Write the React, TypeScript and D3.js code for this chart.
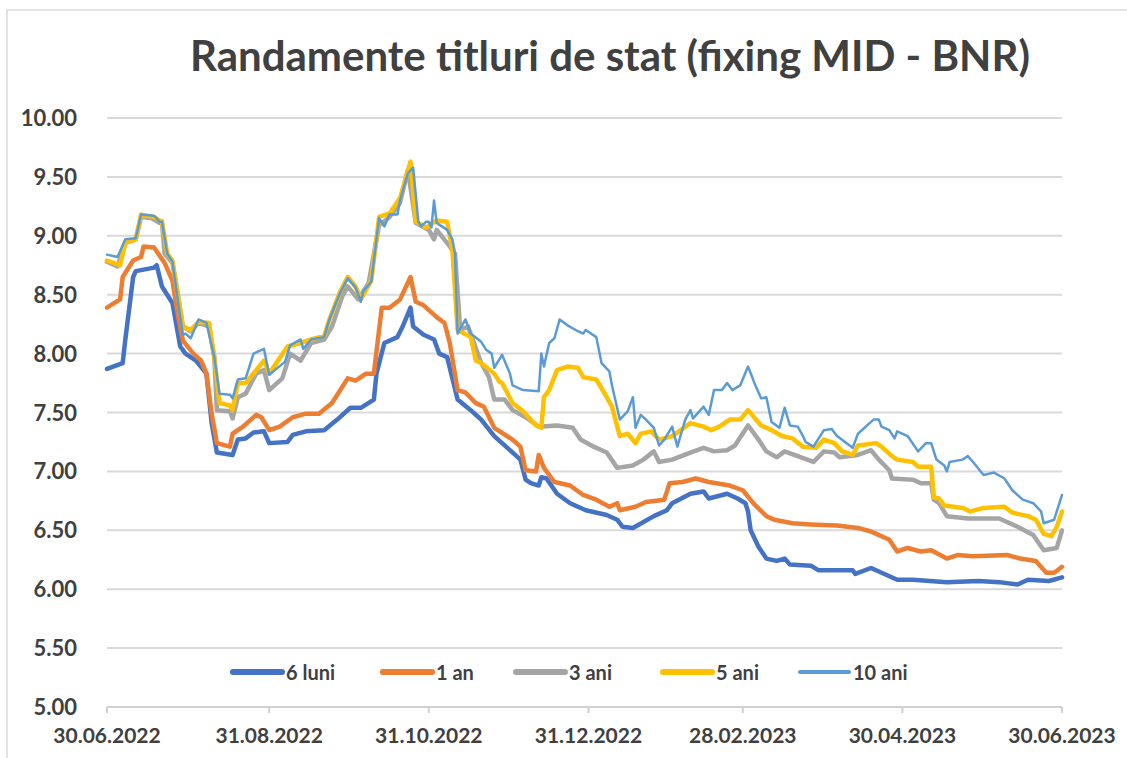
import React from "react";
import * as d3 from "d3";

const TITLE = "Randamente titluri de stat (fixing MID - BNR)";

const xTickDates = ["2022-06-30", "2022-08-31", "2022-10-31", "2022-12-31", "2023-02-28", "2023-04-30", "2023-06-30"];
const yTicks = [5, 5.5, 6, 6.5, 7, 7.5, 8, 8.5, 9, 9.5, 10];

// randament 6 luni
const luni6: [string, number][] = [
  ["2022-06-30", 7.87], ["2022-07-06", 7.92], ["2022-07-07", 8.12], ["2022-07-10", 8.65], ["2022-07-11", 8.7],
  ["2022-07-18", 8.73], ["2022-07-19", 8.75], ["2022-07-21", 8.57], ["2022-07-25", 8.43], ["2022-07-28", 8.06],
  ["2022-07-30", 8.0], ["2022-08-03", 7.94], ["2022-08-07", 7.83], ["2022-08-09", 7.41], ["2022-08-11", 7.16],
  ["2022-08-17", 7.14], ["2022-08-19", 7.27], ["2022-08-22", 7.28], ["2022-08-25", 7.33], ["2022-08-29", 7.34],
  ["2022-08-31", 7.24], ["2022-09-07", 7.25], ["2022-09-09", 7.31], ["2022-09-14", 7.34], ["2022-09-21", 7.35],
  ["2022-09-26", 7.44], ["2022-10-01", 7.54], ["2022-10-05", 7.54], ["2022-10-10", 7.61], ["2022-10-11", 7.83],
  ["2022-10-14", 8.09], ["2022-10-19", 8.14], ["2022-10-21", 8.23], ["2022-10-24", 8.39], ["2022-10-25", 8.23],
  ["2022-10-29", 8.16], ["2022-11-02", 8.12], ["2022-11-04", 8.0], ["2022-11-07", 7.97], ["2022-11-11", 7.61],
  ["2022-11-16", 7.52], ["2022-11-20", 7.44], ["2022-11-25", 7.3], ["2022-12-01", 7.18], ["2022-12-05", 7.1],
  ["2022-12-07", 6.93], ["2022-12-09", 6.9], ["2022-12-12", 6.88], ["2022-12-13", 6.95], ["2022-12-15", 6.94],
  ["2022-12-19", 6.81], ["2022-12-24", 6.73], ["2022-12-30", 6.67], ["2023-01-07", 6.63], ["2023-01-11", 6.59],
  ["2023-01-13", 6.53], ["2023-01-17", 6.52], ["2023-01-25", 6.62], ["2023-01-30", 6.67], ["2023-02-01", 6.73],
  ["2023-02-08", 6.81], ["2023-02-13", 6.83], ["2023-02-15", 6.77], ["2023-02-22", 6.81], ["2023-02-26", 6.77],
  ["2023-03-01", 6.73], ["2023-03-02", 6.66], ["2023-03-03", 6.5], ["2023-03-06", 6.36], ["2023-03-09", 6.26],
  ["2023-03-13", 6.24], ["2023-03-16", 6.26], ["2023-03-18", 6.21], ["2023-03-26", 6.2], ["2023-03-29", 6.16],
  ["2023-04-11", 6.16], ["2023-04-12", 6.13], ["2023-04-18", 6.18], ["2023-04-24", 6.12], ["2023-04-28", 6.08],
  ["2023-05-04", 6.08], ["2023-05-17", 6.06], ["2023-05-29", 6.07], ["2023-06-06", 6.06], ["2023-06-13", 6.04],
  ["2023-06-17", 6.08], ["2023-06-25", 6.07], ["2023-06-30", 6.1],
];

// randament 1 an
const an1: [string, number][] = [
  ["2022-06-30", 8.39], ["2022-07-05", 8.46], ["2022-07-06", 8.65], ["2022-07-10", 8.79], ["2022-07-13", 8.82],
  ["2022-07-14", 8.91], ["2022-07-18", 8.9], ["2022-07-22", 8.77], ["2022-07-25", 8.62], ["2022-07-27", 8.34],
  ["2022-07-29", 8.11], ["2022-08-02", 8.0], ["2022-08-05", 7.94], ["2022-08-07", 7.83], ["2022-08-09", 7.49],
  ["2022-08-11", 7.24], ["2022-08-16", 7.21], ["2022-08-17", 7.32], ["2022-08-21", 7.38], ["2022-08-26", 7.48],
  ["2022-08-28", 7.46], ["2022-08-31", 7.35], ["2022-09-04", 7.38], ["2022-09-09", 7.46], ["2022-09-14", 7.49],
  ["2022-09-19", 7.49], ["2022-09-24", 7.58], ["2022-09-30", 7.79], ["2022-10-03", 7.77], ["2022-10-07", 7.83],
  ["2022-10-10", 7.83], ["2022-10-13", 8.39], ["2022-10-16", 8.39], ["2022-10-20", 8.46], ["2022-10-24", 8.65],
  ["2022-10-26", 8.44], ["2022-10-29", 8.41], ["2022-11-03", 8.31], ["2022-11-06", 8.26], ["2022-11-08", 8.09],
  ["2022-11-11", 7.69], ["2022-11-14", 7.67], ["2022-11-18", 7.58], ["2022-11-21", 7.55], ["2022-11-25", 7.37],
  ["2022-12-02", 7.27], ["2022-12-05", 7.21], ["2022-12-07", 7.01], ["2022-12-11", 7.0], ["2022-12-12", 7.14],
  ["2022-12-14", 7.03], ["2022-12-18", 6.91], ["2022-12-24", 6.88], ["2022-12-29", 6.8], ["2023-01-03", 6.76],
  ["2023-01-08", 6.7], ["2023-01-11", 6.73], ["2023-01-12", 6.67], ["2023-01-18", 6.7], ["2023-01-22", 6.74],
  ["2023-01-29", 6.76], ["2023-01-31", 6.9], ["2023-02-05", 6.91], ["2023-02-10", 6.94], ["2023-02-15", 6.91],
  ["2023-02-23", 6.88], ["2023-02-28", 6.84], ["2023-03-04", 6.73], ["2023-03-09", 6.62], ["2023-03-12", 6.59],
  ["2023-03-19", 6.56], ["2023-03-26", 6.55], ["2023-04-05", 6.54], ["2023-04-13", 6.52], ["2023-04-18", 6.49],
  ["2023-04-20", 6.47], ["2023-04-25", 6.42], ["2023-04-28", 6.32], ["2023-05-02", 6.35], ["2023-05-07", 6.32],
  ["2023-05-11", 6.33], ["2023-05-17", 6.26], ["2023-05-21", 6.29], ["2023-05-27", 6.28], ["2023-06-09", 6.29],
  ["2023-06-14", 6.26], ["2023-06-20", 6.24], ["2023-06-24", 6.14], ["2023-06-27", 6.14], ["2023-06-30", 6.19],
];

// randament 3 ani
const ani3: [string, number][] = [
  ["2022-06-30", 8.78], ["2022-07-04", 8.74], ["2022-07-07", 8.94], ["2022-07-11", 8.97], ["2022-07-13", 9.16],
  ["2022-07-17", 9.15], ["2022-07-20", 9.11], ["2022-07-21", 9.12], ["2022-07-22", 8.85], ["2022-07-25", 8.77],
  ["2022-07-27", 8.51], ["2022-07-29", 8.23], ["2022-08-01", 8.19], ["2022-08-04", 8.26], ["2022-08-08", 8.23],
  ["2022-08-10", 7.97], ["2022-08-11", 7.52], ["2022-08-16", 7.51], ["2022-08-17", 7.45], ["2022-08-19", 7.63],
  ["2022-08-22", 7.66], ["2022-08-26", 7.83], ["2022-08-29", 7.86], ["2022-08-31", 7.69], ["2022-09-05", 7.79],
  ["2022-09-08", 8.0], ["2022-09-12", 7.94], ["2022-09-16", 8.09], ["2022-09-21", 8.12], ["2022-09-24", 8.23],
  ["2022-09-28", 8.49], ["2022-09-30", 8.57], ["2022-10-04", 8.46], ["2022-10-08", 8.6], ["2022-10-12", 9.09],
  ["2022-10-16", 9.16], ["2022-10-20", 9.28], ["2022-10-23", 9.56], ["2022-10-26", 9.11], ["2022-10-31", 9.05],
  ["2022-11-02", 8.97], ["2022-11-03", 9.05], ["2022-11-08", 8.91], ["2022-11-10", 8.85], ["2022-11-12", 8.2],
  ["2022-11-15", 8.23], ["2022-11-20", 7.92], ["2022-11-23", 7.8], ["2022-11-25", 7.61], ["2022-11-29", 7.61],
  ["2022-12-02", 7.52], ["2022-12-07", 7.46], ["2022-12-12", 7.38], ["2022-12-19", 7.39], ["2022-12-25", 7.37],
  ["2022-12-28", 7.27], ["2023-01-02", 7.21], ["2023-01-07", 7.16], ["2023-01-11", 7.03], ["2023-01-17", 7.05],
  ["2023-01-21", 7.1], ["2023-01-25", 7.17], ["2023-01-27", 7.08], ["2023-02-01", 7.1], ["2023-02-08", 7.16],
  ["2023-02-13", 7.2], ["2023-02-17", 7.17], ["2023-02-22", 7.18], ["2023-02-25", 7.22], ["2023-03-02", 7.39],
  ["2023-03-06", 7.27], ["2023-03-09", 7.17], ["2023-03-13", 7.12], ["2023-03-16", 7.17], ["2023-03-21", 7.13],
  ["2023-03-27", 7.08], ["2023-03-31", 7.17], ["2023-04-04", 7.16], ["2023-04-06", 7.12], ["2023-04-13", 7.14],
  ["2023-04-18", 7.18], ["2023-04-21", 7.1], ["2023-04-25", 7.01], ["2023-04-26", 6.94], ["2023-05-04", 6.93],
  ["2023-05-07", 6.9], ["2023-05-11", 6.9], ["2023-05-12", 6.76], ["2023-05-14", 6.73], ["2023-05-17", 6.62],
  ["2023-05-25", 6.6], ["2023-06-06", 6.6], ["2023-06-13", 6.53], ["2023-06-19", 6.46], ["2023-06-23", 6.33],
  ["2023-06-28", 6.35], ["2023-06-30", 6.5],
];

// randament 5 ani
const ani5: [string, number][] = [
  ["2022-06-30", 8.79], ["2022-07-05", 8.75], ["2022-07-07", 8.94], ["2022-07-11", 8.97], ["2022-07-13", 9.18],
  ["2022-07-18", 9.16], ["2022-07-20", 9.13], ["2022-07-21", 9.12], ["2022-07-23", 8.85], ["2022-07-25", 8.79],
  ["2022-07-27", 8.51], ["2022-07-29", 8.23], ["2022-08-01", 8.2], ["2022-08-04", 8.27], ["2022-08-08", 8.26],
  ["2022-08-10", 7.97], ["2022-08-12", 7.58], ["2022-08-16", 7.56], ["2022-08-17", 7.52], ["2022-08-19", 7.75],
  ["2022-08-22", 7.75], ["2022-08-29", 7.94], ["2022-08-31", 7.83], ["2022-09-07", 8.06], ["2022-09-12", 8.09],
  ["2022-09-16", 8.12], ["2022-09-21", 8.15], ["2022-09-23", 8.29], ["2022-09-27", 8.52], ["2022-09-30", 8.65],
  ["2022-10-03", 8.57], ["2022-10-05", 8.46], ["2022-10-09", 8.62], ["2022-10-12", 9.16], ["2022-10-16", 9.19],
  ["2022-10-20", 9.32], ["2022-10-24", 9.63], ["2022-10-26", 9.12], ["2022-10-30", 9.07], ["2022-11-03", 9.13],
  ["2022-11-07", 9.12], ["2022-11-09", 8.88], ["2022-11-11", 8.2], ["2022-11-16", 8.14], ["2022-11-18", 7.94],
  ["2022-11-20", 7.92], ["2022-11-25", 7.83], ["2022-11-27", 7.76], ["2022-11-28", 7.75], ["2022-12-02", 7.58],
  ["2022-12-06", 7.51], ["2022-12-11", 7.39], ["2022-12-13", 7.37], ["2022-12-14", 7.63], ["2022-12-16", 7.69],
  ["2022-12-19", 7.86], ["2022-12-23", 7.89], ["2022-12-27", 7.88], ["2022-12-29", 7.8], ["2023-01-03", 7.78],
  ["2023-01-07", 7.63], ["2023-01-09", 7.55], ["2023-01-12", 7.3], ["2023-01-15", 7.32], ["2023-01-18", 7.24],
  ["2023-01-20", 7.32], ["2023-01-24", 7.34], ["2023-01-27", 7.27], ["2023-02-01", 7.3], ["2023-02-08", 7.41],
  ["2023-02-13", 7.38], ["2023-02-16", 7.35], ["2023-02-19", 7.38], ["2023-02-23", 7.44], ["2023-02-27", 7.44],
  ["2023-03-02", 7.52], ["2023-03-07", 7.39], ["2023-03-11", 7.35], ["2023-03-15", 7.3], ["2023-03-19", 7.28],
  ["2023-03-23", 7.21], ["2023-03-28", 7.2], ["2023-03-31", 7.27], ["2023-04-04", 7.24], ["2023-04-07", 7.17],
  ["2023-04-11", 7.14], ["2023-04-13", 7.22], ["2023-04-20", 7.24], ["2023-04-22", 7.21], ["2023-04-26", 7.13],
  ["2023-04-28", 7.1], ["2023-05-04", 7.08], ["2023-05-06", 7.04], ["2023-05-11", 7.04], ["2023-05-12", 6.78],
  ["2023-05-14", 6.77], ["2023-05-16", 6.71], ["2023-05-23", 6.69], ["2023-05-26", 6.66], ["2023-05-31", 6.69],
  ["2023-06-08", 6.7], ["2023-06-11", 6.65], ["2023-06-17", 6.62], ["2023-06-20", 6.59], ["2023-06-23", 6.47],
  ["2023-06-26", 6.45], ["2023-06-28", 6.53], ["2023-06-30", 6.66],
];

// randament 10 ani
const ani10: [string, number][] = [
  ["2022-06-30", 8.84], ["2022-07-04", 8.82], ["2022-07-07", 8.97], ["2022-07-11", 8.98], ["2022-07-13", 9.18],
  ["2022-07-18", 9.17], ["2022-07-20", 9.12], ["2022-07-21", 9.12], ["2022-07-23", 8.85], ["2022-07-25", 8.78],
  ["2022-07-27", 8.46], ["2022-07-29", 8.16], ["2022-07-30", 8.17], ["2022-08-01", 8.13], ["2022-08-04", 8.29],
  ["2022-08-07", 8.26], ["2022-08-10", 7.97], ["2022-08-12", 7.66], ["2022-08-16", 7.65], ["2022-08-17", 7.62],
  ["2022-08-19", 7.78], ["2022-08-22", 7.79], ["2022-08-25", 8.0], ["2022-08-29", 8.04], ["2022-08-31", 7.82],
  ["2022-09-06", 7.93], ["2022-09-08", 8.07], ["2022-09-12", 8.12], ["2022-09-13", 8.04], ["2022-09-16", 8.12],
  ["2022-09-21", 8.14], ["2022-09-23", 8.29], ["2022-09-27", 8.51], ["2022-09-30", 8.64], ["2022-10-03", 8.56],
  ["2022-10-05", 8.44], ["2022-10-06", 8.53], ["2022-10-09", 8.61], ["2022-10-12", 9.15], ["2022-10-14", 9.08],
  ["2022-10-16", 9.18], ["2022-10-19", 9.18], ["2022-10-20", 9.3], ["2022-10-23", 9.53], ["2022-10-25", 9.58],
  ["2022-10-27", 9.12], ["2022-10-28", 9.08], ["2022-10-30", 9.12], ["2022-10-31", 9.12], ["2022-11-01", 9.07],
  ["2022-11-02", 9.3], ["2022-11-03", 9.11], ["2022-11-07", 9.05], ["2022-11-09", 8.97], ["2022-11-10", 8.85],
  ["2022-11-11", 8.17], ["2022-11-14", 8.29], ["2022-11-16", 8.17], ["2022-11-20", 8.1], ["2022-11-22", 8.03],
  ["2022-11-24", 8.0], ["2022-11-25", 7.88], ["2022-11-28", 7.99], ["2022-12-01", 7.83], ["2022-12-02", 7.73],
  ["2022-12-06", 7.69], ["2022-12-12", 7.68], ["2022-12-13", 8.0], ["2022-12-14", 7.89], ["2022-12-16", 8.09],
  ["2022-12-18", 8.13], ["2022-12-20", 8.29], ["2022-12-23", 8.24], ["2022-12-27", 8.19], ["2022-12-29", 8.17],
  ["2022-12-30", 8.2], ["2023-01-03", 8.14], ["2023-01-05", 7.92], ["2023-01-08", 7.85], ["2023-01-09", 7.73],
  ["2023-01-12", 7.44], ["2023-01-15", 7.51], ["2023-01-17", 7.63], ["2023-01-18", 7.37], ["2023-01-20", 7.48],
  ["2023-01-22", 7.44], ["2023-01-25", 7.37], ["2023-01-27", 7.22], ["2023-01-29", 7.27], ["2023-02-01", 7.38],
  ["2023-02-03", 7.21], ["2023-02-06", 7.44], ["2023-02-08", 7.52], ["2023-02-09", 7.45], ["2023-02-13", 7.55],
  ["2023-02-15", 7.48], ["2023-02-17", 7.69], ["2023-02-20", 7.69], ["2023-02-22", 7.75], ["2023-02-24", 7.69],
  ["2023-02-27", 7.73], ["2023-03-02", 7.89], ["2023-03-05", 7.72], ["2023-03-07", 7.62], ["2023-03-09", 7.63],
  ["2023-03-11", 7.42], ["2023-03-14", 7.37], ["2023-03-16", 7.54], ["2023-03-18", 7.39], ["2023-03-21", 7.38],
  ["2023-03-23", 7.3], ["2023-03-24", 7.25], ["2023-03-27", 7.21], ["2023-03-31", 7.35], ["2023-04-03", 7.36],
  ["2023-04-05", 7.3], ["2023-04-11", 7.2], ["2023-04-13", 7.32], ["2023-04-18", 7.42], ["2023-04-19", 7.44],
  ["2023-04-21", 7.44], ["2023-04-22", 7.38], ["2023-04-25", 7.35], ["2023-04-27", 7.28], ["2023-04-28", 7.34],
  ["2023-05-02", 7.3], ["2023-05-06", 7.17], ["2023-05-09", 7.24], ["2023-05-11", 7.24], ["2023-05-13", 7.1],
  ["2023-05-16", 7.05], ["2023-05-17", 7.0], ["2023-05-18", 7.08], ["2023-05-23", 7.1], ["2023-05-25", 7.13],
  ["2023-05-27", 7.08], ["2023-05-31", 6.97], ["2023-06-04", 6.99], ["2023-06-08", 6.94], ["2023-06-11", 6.84],
  ["2023-06-15", 6.76], ["2023-06-19", 6.73], ["2023-06-22", 6.66], ["2023-06-23", 6.56], ["2023-06-27", 6.59],
  ["2023-06-28", 6.66], ["2023-06-30", 6.8],
];

const seriesNames = ["6 luni", "1 an", "3 ani", "5 ani", "10 ani"];
const seriesData = [luni6, an1, ani3, ani5, ani10];
const seriesColors = ["#4472C4", "#ED7D31", "#A5A5A5", "#FFC000", "#5B9BD5"];
const seriesWidths = [4.5, 4.5, 4.5, 4.5, 2.5];

const W = 1127;
const H = 758;
const FONT = "Lato, 'Open Sans', 'DejaVu Sans', sans-serif";
const TXT = "#404040";

export default function App() {
  const parse = d3.timeParse("%Y-%m-%d");
  const fmt = d3.timeFormat("%d.%m.%Y");

  const x = d3.scaleTime()
    .domain([parse("2022-06-30")!, parse("2023-06-30")!])
    .range([107, 1062]);
  const y = d3.scaleLinear().domain([5, 10]).range([707, 118]);

  const line = d3.line<[string, number]>()
    .x(d => x(parse(d[0])!))
    .y(d => y(d[1]));

  // legend layout
  const legendY = 672;
  const legendX = [233, 383, 516, 663, 800];

  return (
    <div style={{ position: "absolute", left: 0, top: 0 }}>
      <svg width={W} height={H} style={{ display: "block", background: "#fff" }}>
        <rect x={7} y={10} width={W + 20} height={H + 20} fill="#fff" stroke="#d9d9d9" strokeWidth={1.5} />

        <text x={610} y={71} textAnchor="middle" fontFamily={FONT} fontWeight="bold" fontSize={42}
          fill={TXT} textLength={840} lengthAdjust="spacingAndGlyphs">{TITLE}</text>

        {/* grid */}
        {yTicks.slice(1).map(t => (
          <line key={t} x1={x.range()[0]} x2={x.range()[1]} y1={y(t)} y2={y(t)} stroke="#d9d9d9" strokeWidth={2} />
        ))}
        <line x1={x.range()[0]} x2={x.range()[1]} y1={y(5)} y2={y(5)} stroke="#d0d0d0" strokeWidth={2} />

        {yTicks.map(t => (
          <text key={t} x={77} y={y(t) + 8} textAnchor="end" fontFamily={FONT} fontWeight="bold"
            fontSize={22} fill={TXT}>{d3.format(".2f")(t)}</text>
        ))}

        {xTickDates.map(s => {
          const px = x(parse(s)!);
          return (
            <g key={s}>
              <line x1={px} x2={px} y1={y(5)} y2={y(5) + 6} stroke="#d0d0d0" strokeWidth={2} />
              <text x={px} y={743} textAnchor="middle" fontFamily={FONT} fontWeight="bold" fontSize={21}
                fill={TXT}>{fmt(parse(s)!)}</text>
            </g>
          );
        })}

        {seriesData.map((d, i) => (
          <path key={seriesNames[i]} d={line(d) || ""} fill="none" stroke={seriesColors[i]}
            strokeWidth={seriesWidths[i]} strokeLinejoin="round" strokeLinecap="round" />
        ))}

        {seriesNames.map((n, i) => (
          <g key={n}>
            <line x1={legendX[i]} x2={legendX[i] + 49} y1={legendY} y2={legendY} stroke={seriesColors[i]}
              strokeWidth={i === 4 ? 4 : 6} strokeLinecap="round" />
            <text x={legendX[i] + 53} y={legendY + 8} fontFamily={FONT} fontWeight="bold" fontSize={20}
              fill={TXT}>{n}</text>
          </g>
        ))}
      </svg>
    </div>
  );
}
